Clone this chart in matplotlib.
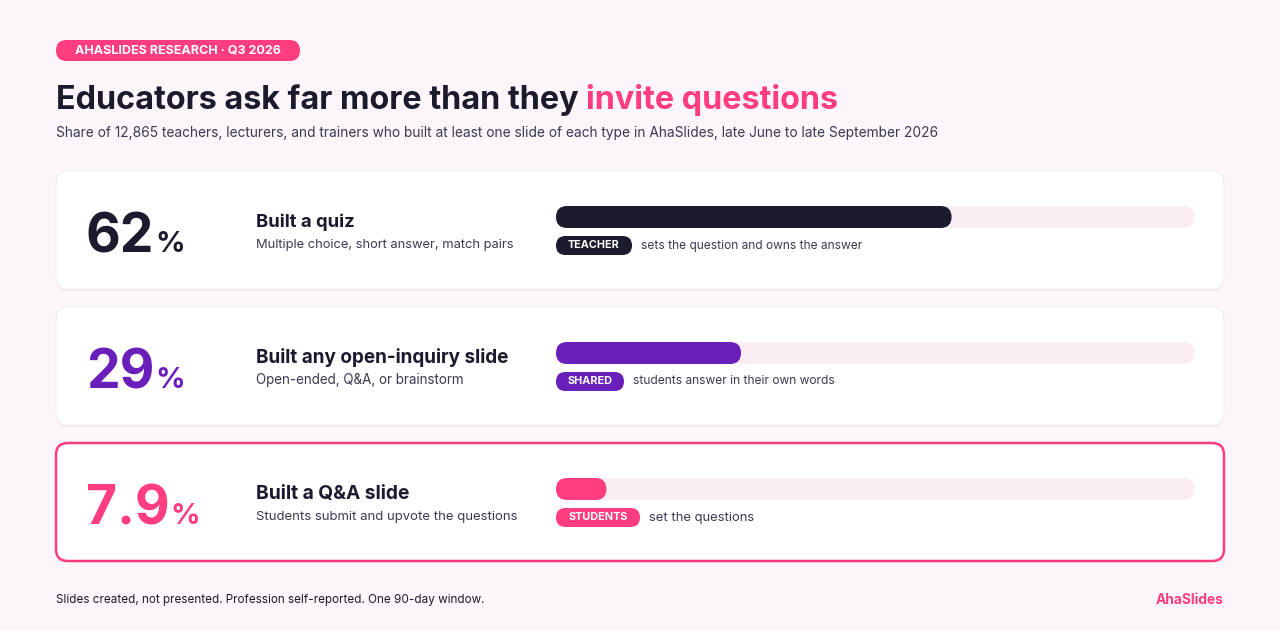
import matplotlib
matplotlib.use("Agg")
import matplotlib.pyplot as plt
from matplotlib.patches import FancyBboxPatch
from matplotlib.font_manager import FontProperties

# ---- data ----
values = [62, 29, 7.9]
value_labels = ["62", "29", "7.9"]
titles = ["Built a quiz", "Built any open-inquiry slide", "Built a Q&A slide"]
descriptions = ["Multiple choice, short answer, match pairs",
                "Open-ended, Q&A, or brainstorm",
                "Students submit and upvote the questions"]
tags = ["TEACHER", "SHARED", "STUDENTS"]
captions = ["sets the question and owns the answer",
            "students answer in their own words",
            "set the questions"]
colors = ["#1c1b2e", "#6a1fbb", "#ff3d7f"]
highlight = [False, False, True]

FONT = "Inter"
plt.rcParams['font.family'] = [FONT, 'DejaVu Sans']
BG = "#fcf5f9"
DARK = "#1c1b2e"
PINK = "#ff3d7f"
MUTED = "#3b3a52"
TRACK = "#f9edf3"
HEAVY = "bold"

W, H = 1280, 630
fig = plt.figure(figsize=(W / 100, H / 100), dpi=100, facecolor=BG)
ax = fig.add_axes([0, 0, 1, 1])
ax.set_xlim(0, W)
ax.set_ylim(H, 0)
ax.axis('off')
fig.canvas.draw()
renderer = fig.canvas.get_renderer()


def text_w(s, size, weight="normal"):
    fp = FontProperties(family=[FONT, 'DejaVu Sans'], size=size, weight=weight)
    w, h, d = renderer.get_text_width_height_descent(s, fp, ismath=False)
    return w


def fit(s, target, weight="normal", base=20.0):
    return base * target / text_w(s, base, weight)


# badge
badge = "AHASLIDES RESEARCH · Q3 2026"
bs = min(fit(badge, 214, "bold"), 9.0)
ax.add_patch(FancyBboxPatch((56, 40), 244, 21, boxstyle="round,pad=0,rounding_size=10.5",
                            fc=PINK, ec="none"))
ax.text(56 + 122, 51, badge, color="white", fontsize=bs, fontweight="bold",
        va="center", ha="center")

# title
title_a = "Educators ask far more than they "
title_b = "invite questions"
ts = fit(title_a + title_b, 784, HEAVY)
ax.text(56, 109, title_a, color=DARK, fontsize=ts, fontweight=HEAVY, va="baseline", ha="left")
ax.text(56 + text_w(title_a, ts, HEAVY), 109, title_b, color=PINK, fontsize=ts,
        fontweight=HEAVY, va="baseline", ha="left")

sub = ("Share of 12,865 teachers, lecturers, and trainers who built at least one slide "
       "of each type in AhaSlides, late June to late September 2026")
ax.text(56, 137, sub, color=MUTED, fontsize=fit(sub, 885), va="baseline", ha="left")

card_tops = [171, 307, 443]
card_h = 118
num_size = 38.5
pct_size = 21
label_targets = [99, 254, 154]
desc_targets = [258, 209, 262]
tag_targets = [54, 46, 62]
cap_targets = [221, 202, 112]
for i, top in enumerate(card_tops):
    # shadow
    ax.add_patch(FancyBboxPatch((56, top + 2), 1168, card_h, boxstyle="round,pad=0,rounding_size=12",
                                fc="#f1e8ee", ec="none", zorder=1))
    ec = PINK if highlight[i] else "#f3ecf0"
    lw = 1.8 if highlight[i] else 0.8
    ax.add_patch(FancyBboxPatch((56, top), 1168, card_h, boxstyle="round,pad=0,rounding_size=12",
                                fc="white", ec=ec, lw=lw, zorder=2))
    base_y = top + 81.5
    # big number
    ax.text(86, base_y, value_labels[i], color=colors[i], fontsize=num_size,
            fontweight=HEAVY, va="baseline", ha="left", zorder=3)
    nx = 86 + text_w(value_labels[i], num_size, HEAVY)
    ax.text(nx + 0.5, base_y, "%", color=colors[i], fontsize=pct_size, fontweight=HEAVY,
            va="baseline", ha="left", zorder=3)
    # labels
    ls = min(fit(titles[i], label_targets[i], "bold"), 14.5)
    ax.text(256, top + 56, titles[i], color=DARK, fontsize=ls, fontweight="bold",
            va="baseline", ha="left", zorder=3)
    ds = min(fit(descriptions[i], desc_targets[i]), 10.2)
    ax.text(256, top + 77, descriptions[i], color=MUTED, fontsize=ds,
            va="baseline", ha="left", zorder=3)

    # bar axes
    bar_top = top + 35
    bax = fig.add_axes([556 / W, 1 - (bar_top + 22) / H, 638 / W, 22 / H])
    bax.set_xlim(0, 100)
    bax.set_ylim(0, 1)
    bax.axis('off')
    bax.patch.set_alpha(0)
    aspect = (1 / 22) / (100 / 638)
    r = 11 / 6.38
    bax.add_patch(FancyBboxPatch((0, 0), 100, 1, boxstyle=f"round,pad=0,rounding_size={r}",
                                 mutation_aspect=aspect, fc=TRACK, ec="none"))
    bax.add_patch(FancyBboxPatch((0, 0), values[i], 1, boxstyle=f"round,pad=0,rounding_size={r}",
                                 mutation_aspect=aspect, fc=colors[i], ec="none"))

    # tag + caption
    ty = top + 74.5
    tsz = min(fit(tags[i], tag_targets[i], "bold"), 7.8)
    pw = tag_targets[i] + 22
    ax.add_patch(FancyBboxPatch((556, ty - 9.5), pw, 19, boxstyle="round,pad=0,rounding_size=9.5",
                                fc=colors[i], ec="none", zorder=3))
    ax.text(556 + pw / 2, ty, tags[i], color="white", fontsize=tsz, fontweight="bold",
            va="center", ha="center", zorder=4)
    cs = min(fit(captions[i], cap_targets[i]), 9.4)
    ax.text(556 + pw + 9, ty, captions[i], color=MUTED, fontsize=cs, va="center", ha="left", zorder=3)

# footer
foot = "Slides created, not presented. Profession self-reported. One 90-day window."
ax.text(56, 600, foot, color=DARK, fontsize=fit(foot, 427), va="center", ha="left")
ax.text(1224, 600, "AhaSlides", color=PINK, fontsize=fit("AhaSlides", 68, "bold"),
        fontweight="bold", va="center", ha="right")

fig.savefig("out.png", dpi=100, facecolor=BG)
